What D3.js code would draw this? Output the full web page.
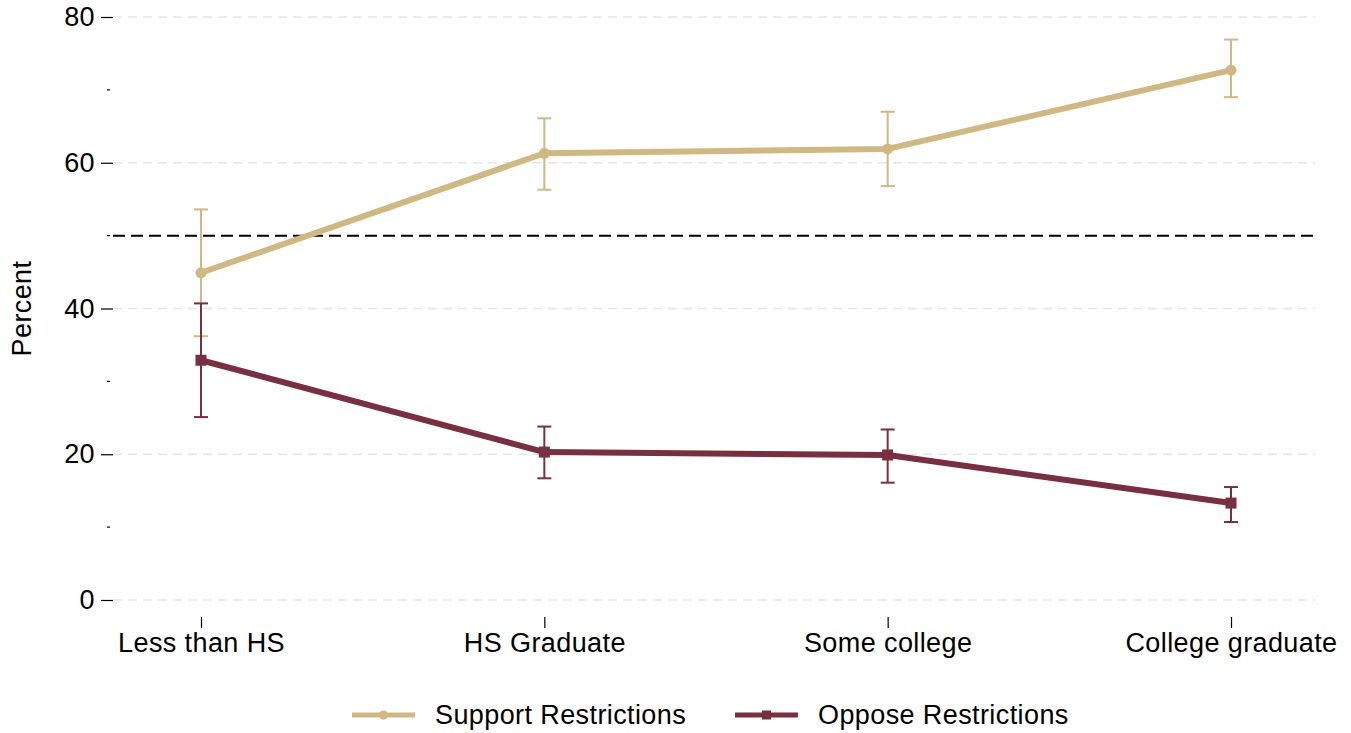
<!DOCTYPE html>
<html>
<head>
<meta charset="utf-8">
<script src="https://cdn.jsdelivr.net/npm/d3@7"></script>
<style>
  html, body { margin: 0; padding: 0; background: #fff; }
  svg { display: block; font-family: "Liberation Sans", Arial, Helvetica, sans-serif; }
  text { letter-spacing: 0.4px; }
</style>
</head>
<body>
<svg id="chart" width="1351" height="733"></svg>
<script>
// Education categories along the x axis
const categories = ["Less than HS", "HS Graduate", "Some college", "College graduate"];

// Support restrictions: estimate with 95% interval
const supportValues = [44.9, 61.3, 61.9, 72.7];
const supportLower  = [36.2, 56.3, 56.8, 69.0];
const supportUpper  = [53.6, 66.1, 67.0, 76.9];

// Oppose restrictions: estimate with 95% interval
const opposeValues = [32.9, 20.3, 19.9, 13.3];
const opposeLower  = [25.1, 16.7, 16.1, 10.7];
const opposeUpper  = [40.7, 23.8, 23.4, 15.5];

const yMajorTicks = [0, 20, 40, 60, 80];
const yMinorTicks = [10, 30, 50, 70];
const referenceLine = 50;

const series = [
  { name: "Support Restrictions", color: "#CFB882", marker: "circle",
    values: supportValues, lower: supportLower, upper: supportUpper },
  { name: "Oppose Restrictions", color: "#782F40", marker: "square",
    values: opposeValues, lower: opposeLower, upper: opposeUpper }
];

const FONT = 27;
const svg = d3.select("#chart");
const plotLeft = 113, plotRight = 1315;

const x = d3.scalePoint().domain(categories).range([201, 1231]);
const y = d3.scaleLinear().domain([0, 80]).range([600, 17]);

// Light dashed gridlines at major ticks
svg.append("g")
  .selectAll("line")
  .data(yMajorTicks)
  .join("line")
  .attr("x1", plotLeft).attr("x2", plotRight)
  .attr("y1", d => y(d)).attr("y2", d => y(d))
  .attr("stroke", "#e6e6e6")
  .attr("stroke-width", 1.5)
  .attr("stroke-dasharray", "9,6");

// Y axis: major and minor ticks, no domain line
const yAxis = svg.append("g")
  .attr("transform", `translate(${plotLeft},0)`)
  .call(d3.axisLeft(y).tickValues(yMajorTicks).tickSize(12).tickPadding(6));
yAxis.select(".domain").remove();
yAxis.selectAll(".tick line").attr("stroke", "#000").attr("stroke-width", 1.2);
yAxis.selectAll(".tick text").attr("font-size", FONT).attr("fill", "#000")
  .attr("font-family", "Liberation Sans, Arial, sans-serif");

svg.append("g")
  .selectAll("line")
  .data(yMinorTicks)
  .join("line")
  .attr("x1", plotLeft - 6).attr("x2", plotLeft - 3)
  .attr("y1", d => y(d)).attr("y2", d => y(d))
  .attr("stroke", "#000").attr("stroke-width", 1.2);

// X axis
const xAxis = svg.append("g")
  .attr("transform", "translate(0,617)")
  .call(d3.axisBottom(x).tickSize(11).tickPadding(5));
xAxis.select(".domain").remove();
xAxis.selectAll(".tick line").attr("stroke", "#000").attr("stroke-width", 1.2);
xAxis.selectAll(".tick text").attr("font-size", FONT).attr("fill", "#000")
  .attr("font-family", "Liberation Sans, Arial, sans-serif");

// Y axis title
svg.append("text")
  .attr("transform", `translate(31,${y(40)}) rotate(-90)`)
  .attr("text-anchor", "middle")
  .attr("font-size", FONT)
  .text("Percent");

// 50% reference line
svg.append("line")
  .attr("x1", plotLeft).attr("x2", plotRight)
  .attr("y1", y(referenceLine)).attr("y2", y(referenceLine))
  .attr("stroke", "#000")
  .attr("stroke-width", 2)
  .attr("stroke-dasharray", "12,6");

const line = d3.line()
  .x(d => x(d.cat))
  .y(d => y(d.v));

series.forEach(s => {
  const pts = categories.map((c, i) => ({ cat: c, v: s.values[i], lo: s.lower[i], hi: s.upper[i] }));
  const g = svg.append("g");

  // Error bars
  g.selectAll(".ci").data(pts).join("line")
    .attr("x1", d => x(d.cat)).attr("x2", d => x(d.cat))
    .attr("y1", d => y(d.lo)).attr("y2", d => y(d.hi))
    .attr("stroke", s.color).attr("stroke-width", 2);
  ["lo", "hi"].forEach(k => {
    g.selectAll(".cap-" + k).data(pts).join("line")
      .attr("x1", d => x(d.cat) - 7).attr("x2", d => x(d.cat) + 7)
      .attr("y1", d => y(d[k])).attr("y2", d => y(d[k]))
      .attr("stroke", s.color).attr("stroke-width", 2);
  });

  // Connecting line
  g.append("path").datum(pts)
    .attr("d", line)
    .attr("fill", "none")
    .attr("stroke", s.color)
    .attr("stroke-width", 6)
    .attr("stroke-linejoin", "round");

  // Markers
  if (s.marker === "circle") {
    g.selectAll(".mk").data(pts).join("circle")
      .attr("cx", d => x(d.cat)).attr("cy", d => y(d.v)).attr("r", 5.5)
      .attr("fill", s.color);
  } else {
    g.selectAll(".mk").data(pts).join("rect")
      .attr("x", d => x(d.cat) - 5.5).attr("y", d => y(d.v) - 5.5)
      .attr("width", 11).attr("height", 11)
      .attr("fill", s.color);
  }
});

// Legend
const legendY = 715;
const legendItems = [
  { s: series[0], x0: 352 },
  { s: series[1], x0: 735 }
];
legendItems.forEach(({ s, x0 }) => {
  const g = svg.append("g");
  g.append("line")
    .attr("x1", x0).attr("x2", x0 + 63)
    .attr("y1", legendY).attr("y2", legendY)
    .attr("stroke", s.color).attr("stroke-width", 5);
  if (s.marker === "circle") {
    g.append("circle").attr("cx", x0 + 31.5).attr("cy", legendY).attr("r", 4.5).attr("fill", s.color);
  } else {
    g.append("rect").attr("x", x0 + 27).attr("y", legendY - 4.5).attr("width", 9).attr("height", 9).attr("fill", s.color);
  }
  g.append("text")
    .attr("x", x0 + 83).attr("y", legendY)
    .attr("dy", "0.35em")
    .attr("font-size", FONT)
    .text(s.name);
});
</script>
</body>
</html>
